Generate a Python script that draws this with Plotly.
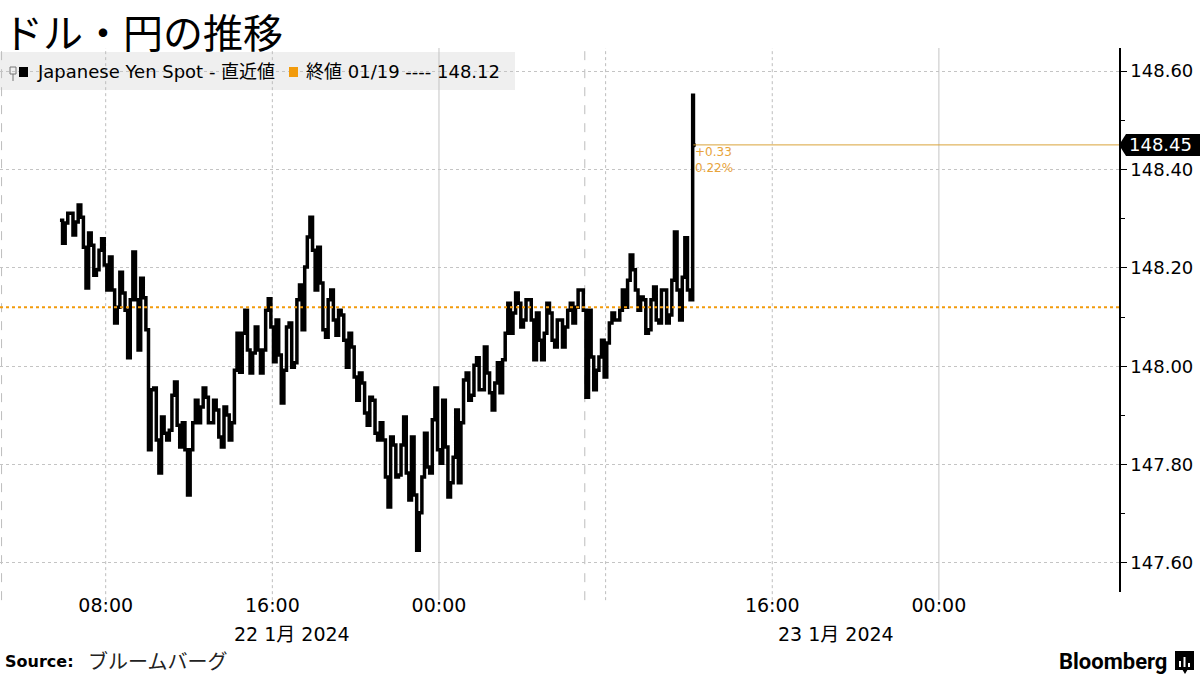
import plotly.graph_objects as go
import pandas as pd

# ---------------- data ----------------
slot_start = "2024-01-22 05:52"   # first 15-minute slot
slot_minutes = 15
highs = [
    148.297, 148.311, 148.311, 148.328, 148.303, 148.271, 148.246, 148.236, 148.259, 148.222,
    148.155, 148.191, 148.149, 148.135, 148.232, 148.179, 148.139, 147.952, 147.956, 147.897,
    147.864, 147.941, 147.968, 147.885, 147.830, 147.885, 147.931, 147.956, 147.937, 147.931,
    147.911, 147.917, 147.901, 147.992, 148.067, 148.114, 148.033, 148.080, 148.033, 148.114,
    148.137, 148.094, 148.023, 148.080, 148.088, 148.135, 148.165, 148.263, 148.303, 148.242,
    148.169, 148.135, 148.155, 148.114, 148.104, 148.067, 148.039, 147.986, 147.966, 147.937,
    147.931, 147.885, 147.850, 147.856, 147.840, 147.840, 147.897, 147.856, 147.738, 147.775,
    147.864, 147.891, 147.956, 147.931, 147.836, 147.815, 147.911, 147.972, 147.986, 148.002,
    148.017, 148.039, 147.986, 147.966, 148.007, 148.067, 148.128, 148.149, 148.128, 148.135,
    148.135, 148.108, 148.053, 148.128, 148.108, 148.094, 148.094, 148.114, 148.128, 148.155,
    148.155, 148.114, 148.019, 148.019, 148.053, 148.088, 148.108, 148.114, 148.155, 148.226,
    148.196, 148.141, 148.135, 148.135, 148.161, 148.155, 148.155, 148.175, 148.273, 148.181,
    148.261, 148.551,
]
lows = [
    148.250, 148.291, 148.267, 148.293, 148.242, 148.159, 148.185, 148.196, 148.206, 148.155,
    148.088, 148.120, 148.114, 148.017, 148.135, 148.033, 148.074, 147.830, 147.850, 147.783,
    147.850, 147.870, 147.880, 147.836, 147.738, 147.830, 147.885, 147.917, 147.885, 147.885,
    147.856, 147.836, 147.850, 147.885, 147.988, 148.067, 147.986, 148.027, 147.986, 148.033,
    148.080, 148.009, 147.925, 147.992, 147.998, 148.007, 148.074, 148.202, 148.236, 148.155,
    148.074, 148.059, 148.094, 148.063, 148.053, 147.998, 147.978, 147.931, 147.905, 147.880,
    147.864, 147.850, 147.775, 147.714, 147.775, 147.779, 147.783, 147.728, 147.626, 147.702,
    147.795, 147.783, 147.830, 147.803, 147.734, 147.763, 147.763, 147.885, 147.931, 147.941,
    147.952, 147.952, 147.946, 147.911, 147.946, 148.013, 148.067, 148.108, 148.080, 148.094,
    148.094, 148.013, 148.013, 148.067, 148.053, 148.039, 148.039, 148.080, 148.088, 148.120,
    148.114, 147.937, 147.952, 147.992, 147.978, 148.047, 148.094, 148.094, 148.120, 148.175,
    148.155, 148.114, 148.067, 148.074, 148.094, 148.088, 148.088, 148.104, 148.155, 148.094,
    148.155, 148.135,
]
last_price = 148.45
prev_close = 148.12
prev_close_date = "01/19"

y_tick_vals = [147.6, 147.8, 148.0, 148.2, 148.4, 148.6]
y_tick_text = ["147.60", "147.80", "148.00", "148.20", "148.40", "148.60"]
x_tick_vals = ["2024-01-22 08:00", "2024-01-22 16:00", "2024-01-23 00:00",
               "2024-01-23 16:00", "2024-01-24 00:00"]
x_tick_text = ["08:00", "16:00", "00:00", "16:00", "00:00"]
date_labels = ["22 1月 2024", "23 1月 2024"]
dotted_grid = ["2024-01-22 08:00", "2024-01-22 16:00", "2024-01-23 08:00", "2024-01-23 16:00"]
solid_grid = ["2024-01-23 00:00", "2024-01-24 00:00"]
dashed_grid = ["2024-01-22 03:00", "2024-01-23 07:00"]

title = "ドル・円の推移"
series_name = "Japanese Yen Spot - 直近値"

# ---------------- layout constants ----------------
W, H = 1200, 675
ML, MR, MT, MB = 0, 81, 48, 83
PW = W - ML - MR
PH = H - MT - MB
x_range = ["2024-01-22 02:55:32", "2024-01-24 08:38:46"]
y_range = [147.541, 148.647]
ORANGE = "#F29B0C"


def px(xp):
    return (xp - ML) / PW


def py(yp):
    return (H - MB - yp) / PH


def yv(v):
    return (v - y_range[0]) / (y_range[1] - y_range[0])


# ---------------- build series ----------------
slot_times = pd.date_range(slot_start, periods=len(highs), freq=f"{slot_minutes}min")
half = pd.Timedelta(minutes=slot_minutes / 4)
xs, ys = [], []
for i, (t, h, l) in enumerate(zip(slot_times, highs, lows)):
    a, b = (h, l) if i % 2 == 0 else (l, h)
    xs += [t - half, t + half]
    ys += [a, b]
last_time = slot_times[-1] + pd.Timedelta(minutes=6)
xs.append(last_time)
ys.append(last_price)

fig = go.Figure()
fig.add_trace(go.Scatter(x=xs, y=ys, mode="lines",
                         line=dict(color="black", width=3.5, shape="hv"), hoverinfo="skip",
                         showlegend=False))
fig.add_trace(go.Scatter(x=[last_time], y=[last_price], mode="markers",
                         marker=dict(color="black", size=5), showlegend=False))

shapes = []
# legend background box
shapes.append(dict(type="rect", xref="paper", yref="paper", x0=px(0), x1=px(515),
                   y0=py(90), y1=py(52), fillcolor="#efefef", line=dict(width=0),
                   layer="below"))
for t in dotted_grid:
    shapes.append(dict(type="line", xref="x", yref="paper", x0=t, x1=t, y0=-0.015, y1=1,
                       line=dict(color="#bdbdbd", width=1, dash="dot"), layer="below"))
for t in solid_grid:
    shapes.append(dict(type="line", xref="x", yref="paper", x0=t, x1=t, y0=-0.015, y1=1,
                       line=dict(color="#c4c4c4", width=1), layer="below"))
for t in dashed_grid:
    shapes.append(dict(type="line", xref="x", yref="paper", x0=t, x1=t, y0=-0.015, y1=1,
                       line=dict(color="#bdbdbd", width=1, dash="dash"), layer="below"))
# previous close line
shapes.append(dict(type="line", xref="paper", yref="y", x0=0, x1=1, y0=prev_close,
                   y1=prev_close, line=dict(color=ORANGE, width=2, dash="dot")))
# last price line
shapes.append(dict(type="line", xref="x", yref="y", x0=last_time, x1=x_range[1],
                   y0=last_price, y1=last_price, line=dict(color="#D9A33A", width=1)))
# price tag
yl = yv(last_price)
dy = 11 / PH
shapes.append(dict(type="path", xref="paper", yref="paper",
                   path=f"M 1,{yl} L {px(PW + 7)},{yl + dy} L {px(W + 5)},{yl + dy} "
                        f"L {px(W + 5)},{yl - dy} L {px(PW + 7)},{yl - dy} Z",
                   fillcolor="black", line=dict(width=0)))
# legend markers
shapes.append(dict(type="rect", xref="paper", yref="paper", x0=px(19), x1=px(28),
                   y0=py(77), y1=py(67), fillcolor="black", line=dict(width=0)))
shapes.append(dict(type="rect", xref="paper", yref="paper", x0=px(289), x1=px(298),
                   y0=py(77), y1=py(67), fillcolor=ORANGE, line=dict(width=0)))
shapes.append(dict(type="rect", xref="paper", yref="paper", x0=px(10), x1=px(16),
                   y0=py(74), y1=py(67), fillcolor="rgba(0,0,0,0)",
                   line=dict(color="#777", width=1)))
shapes.append(dict(type="line", xref="paper", yref="paper", x0=px(13), x1=px(13),
                   y0=py(81), y1=py(74), line=dict(color="#777", width=1)))
# Bloomberg mark
shapes.append(dict(type="rect", xref="paper", yref="paper", x0=px(1175), x1=px(1194),
                   y0=py(670), y1=py(651), fillcolor="black", line=dict(width=0)))
shapes.append(dict(type="path", xref="paper", yref="paper",
                   path=f"M {px(1182)},{py(669)} L {px(1185)},{py(674)} L {px(1188)},{py(669)} Z",
                   fillcolor="black", line=dict(width=0)))
for bx, btop in [(1180, 661), (1184.5, 657), (1189, 663)]:
    shapes.append(dict(type="line", xref="paper", yref="paper", x0=px(bx), x1=px(bx),
                       y0=py(667), y1=py(btop), line=dict(color="white", width=2)))

change = last_price - prev_close
pct = change / prev_close * 100

annotations = [
    dict(text=title, xref="paper", yref="paper", x=px(1), y=py(0), xanchor="left",
         yanchor="top", showarrow=False,
         font=dict(family="Noto Sans CJK JP", size=40, color="black")),
    dict(text=series_name, xref="paper", yref="paper", x=px(35), y=py(72),
         xanchor="left", yanchor="middle", showarrow=False,
         font=dict(family="DejaVu Sans, Noto Sans CJK JP", size=18, color="black")),
    dict(text=f"終値 {prev_close_date} ---- {prev_close:.2f}", xref="paper", yref="paper",
         x=px(304), y=py(72), xanchor="left", yanchor="middle", showarrow=False,
         font=dict(family="DejaVu Sans, Noto Sans CJK JP", size=18, color="black")),
    dict(text=f"{last_price:.2f}", xref="paper", yref="paper", x=px(PW + 8), y=yl,
         xanchor="left", yanchor="middle", showarrow=False,
         font=dict(family="DejaVu Sans", size=18, color="white")),
    dict(text=f"+{change:.2f}", xref="x", yref="y", x=last_time, y=last_price,
         xanchor="left", yanchor="middle", yshift=-7, xshift=0, showarrow=False,
         font=dict(family="DejaVu Sans", size=12, color="#E8A33A")),
    dict(text=f"{pct:.2f}%", xref="x", yref="y", x=last_time, y=last_price,
         xanchor="left", yanchor="middle", yshift=-23, xshift=0, showarrow=False,
         font=dict(family="DejaVu Sans", size=12, color="#E8A33A")),
    dict(text=date_labels[0], xref="paper", yref="paper", x=px(292), y=py(634),
         xanchor="center", yanchor="middle", showarrow=False,
         font=dict(family="DejaVu Sans, Noto Sans CJK JP", size=19, color="black")),
    dict(text=date_labels[1], xref="paper", yref="paper", x=px(836), y=py(634),
         xanchor="center", yanchor="middle", showarrow=False,
         font=dict(family="DejaVu Sans, Noto Sans CJK JP", size=19, color="black")),
    dict(text="<b>Source:</b>", xref="paper", yref="paper", x=px(3), y=py(661),
         xanchor="left", yanchor="middle", showarrow=False,
         font=dict(family="DejaVu Sans", size=16, color="black")),
    dict(text="ブルームバーグ", xref="paper", yref="paper", x=px(86), y=py(660),
         xanchor="left", yanchor="middle", showarrow=False,
         font=dict(family="Noto Sans CJK JP", size=20, color="#222")),
    dict(text="<b>Bloomberg</b>", xref="paper", yref="paper", x=px(1169), y=py(661),
         xanchor="right", yanchor="middle", showarrow=False,
         font=dict(family="Roboto", size=22, color="black")),
]

fig.update_layout(
    width=W, height=H, autosize=False,
    margin=dict(l=ML, r=MR, t=MT, b=MB, pad=0),
    paper_bgcolor="white", plot_bgcolor="white",
    showlegend=False,
    shapes=shapes, annotations=annotations,
    xaxis=dict(type="date", range=x_range, tickmode="array", tickvals=x_tick_vals,
               ticktext=x_tick_text, showgrid=False, zeroline=False, showline=False,
               ticks="",
               tickfont=dict(family="DejaVu Sans", size=19, color="black")),
    yaxis=dict(side="right", range=y_range, tickmode="array", tickvals=y_tick_vals,
               ticktext=y_tick_text, showgrid=True, gridcolor="#c4c4c4", griddash="dot",
               gridwidth=1, zeroline=False, showline=True, linecolor="black", linewidth=1.5,
               ticks="outside", ticklen=6, tickcolor="black",
               minor=dict(tickmode="linear", tick0=147.5, dtick=0.1, ticks="outside",
                          ticklen=4, tickcolor="black", showgrid=False),
               tickfont=dict(family="DejaVu Sans", size=18, color="black")),
)

fig.write_html("out.html", config={"displayModeBar": False},
               post_script="document.body.style.margin='0px';document.body.style.overflow='hidden';")
